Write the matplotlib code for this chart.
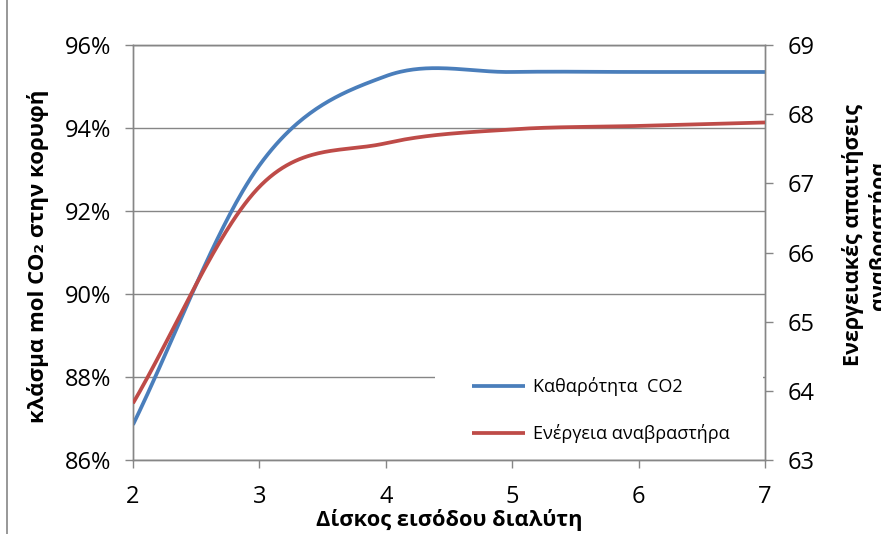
import numpy as np
import matplotlib
matplotlib.use("Agg")
import matplotlib.pyplot as plt
from matplotlib.patches import Rectangle

# ---- data ----
trays = [2, 3, 4, 5, 6, 7]
purity_pct = [86.85, 93.10, 95.25, 95.35, 95.35, 95.35]   # left axis (%)
energy = [63.82, 66.95, 67.58, 67.78, 67.83, 67.88]       # right axis
x_ticks = [2, 3, 4, 5, 6, 7]
left_ticks = [86, 88, 90, 92, 94, 96]
right_ticks = [63, 64, 65, 66, 67, 68, 69]
label_purity = "Καθαρότητα  CO2"
label_energy = "Ενέργεια αναβραστήρα"
xlabel = "Δίσκος εισόδου διαλύτη"
ylabel_left = "κλάσμα mol CO₂ στην κορυφή"
ylabel_right = "Ενεργειακές απαιτήσεις\nαναβραστήρα"


def smooth(xs, ys, n=60):
    """Excel-like smoothed line (Catmull-Rom / cubic Hermite)."""
    xs = np.asarray(xs, float)
    ys = np.asarray(ys, float)
    m = np.zeros_like(ys)
    m[0] = (ys[1] - ys[0]) / (xs[1] - xs[0])
    m[-1] = (ys[-1] - ys[-2]) / (xs[-1] - xs[-2])
    for i in range(1, len(ys) - 1):
        m[i] = (ys[i + 1] - ys[i - 1]) / (xs[i + 1] - xs[i - 1])
    ox, oy = [], []
    for i in range(len(xs) - 1):
        h = xs[i + 1] - xs[i]
        t = np.linspace(0, 1, n, endpoint=(i == len(xs) - 2))
        h00 = 2 * t**3 - 3 * t**2 + 1
        h10 = t**3 - 2 * t**2 + t
        h01 = -2 * t**3 + 3 * t**2
        h11 = t**3 - t**2
        ox.append(xs[i] + t * h)
        oy.append(h00 * ys[i] + h10 * h * m[i] + h01 * ys[i + 1] + h11 * h * m[i + 1])
    return np.concatenate(ox), np.concatenate(oy)


plt.rcParams['font.family'] = ['Open Sans', 'DejaVu Sans']

W, H = 881, 534
fig = plt.figure(figsize=(W / 100, H / 100), dpi=100)
L, R, T, B = 133, 765, 45, 460
ax = fig.add_axes([L / W, 1 - B / H, (R - L) / W, (B - T) / H])
ax2 = ax.twinx()

grey = "#868686"
blue = "#4A7EBB"
red = "#BE4B48"

bx, by = smooth(trays, purity_pct)
rx, ry = smooth(trays, energy)
l1, = ax.plot(bx, by, color=blue, lw=2.7, solid_capstyle='butt', zorder=3, label=label_purity)
l2, = ax2.plot(rx, ry, color=red, lw=2.7, solid_capstyle='butt', zorder=3, label=label_energy)

ax.set_xlim(2, 7)
ax.set_ylim(86, 96)
ax2.set_ylim(63, 69)
ax.set_xticks(x_ticks)
ax.set_yticks(left_ticks)
ax.set_yticklabels([f"{v}%" for v in left_ticks])
ax2.set_yticks(right_ticks)

ax.set_axisbelow(True)
ax.grid(axis='y', color=grey, lw=1.0)
ax.grid(axis='x', visible=False)

for a in (ax, ax2):
    for s in a.spines.values():
        s.set_color(grey)
        s.set_linewidth(1.0)

ax.tick_params(axis='y', direction='out', length=6, width=1, color=grey, pad=10, labelsize=17)
ax.tick_params(axis='x', direction='out', length=6, width=1, color=grey, pad=12, labelsize=17)
ax2.tick_params(axis='y', direction='out', length=6, width=1, color=grey, pad=10, labelsize=17)

# legend background (white box hiding the gridline)
ax.add_patch(Rectangle(((435 - L) / (R - L), 0.003), (763 - 435) / (R - L), 0.21,
                       transform=ax.transAxes, facecolor='white', edgecolor='none', zorder=1))
leg = ax2.legend(handles=[l1, l2], loc='center left',
                 bbox_to_anchor=((463 - L) / (R - L), (B - 410) / (B - T)),
                 frameon=False, borderpad=0, handlelength=2.95, handletextpad=0.4,
                 labelspacing=1.55, fontsize=13)

fig.text(38 / W, 1 - 256 / H, ylabel_left, rotation=90, ha='center', va='center',
         fontsize=16, fontweight='bold')
fig.text(866 / W, 1 - 235 / H, ylabel_right, rotation=90, ha='center', va='center',
         fontsize=15.5, fontweight='bold', linespacing=1.25)
fig.text(449 / W, 1 - 520 / H, xlabel, ha='center', va='center', fontsize=15.7, fontweight='bold')

# outer chart border on left edge
fig.add_artist(plt.Line2D([7 / W, 7 / W], [0, 1], transform=fig.transFigure, color=grey, lw=1.2))

fig.savefig("out.png", dpi=100)
